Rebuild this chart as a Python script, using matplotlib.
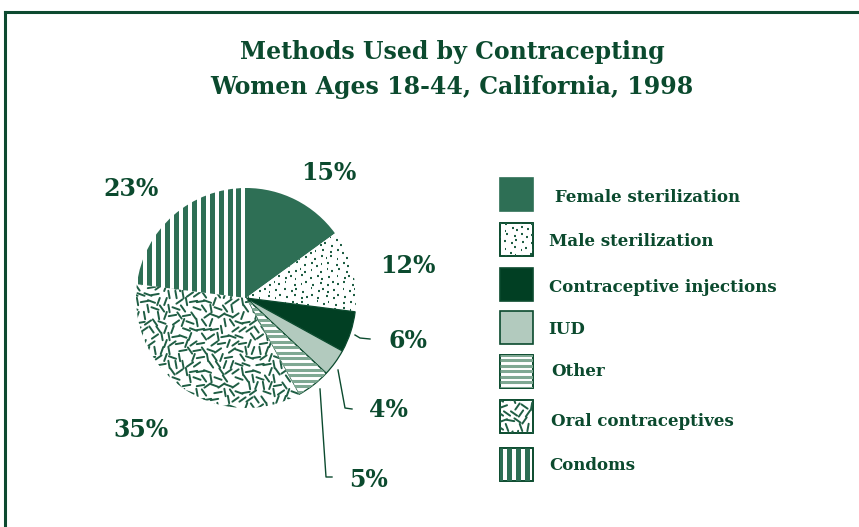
import matplotlib
matplotlib.use("Agg")
import numpy as np
import matplotlib.pyplot as plt
from matplotlib.lines import Line2D
from matplotlib.patches import Rectangle
from matplotlib.collections import LineCollection

methods = ["Female sterilization", "Male sterilization", "Contraceptive injections",
           "IUD", "Other", "Oral contraceptives", "Condoms"]
shares = [15, 12, 6, 4, 5, 35, 23]
pct_labels = ["15%", "12%", "6%", "4%", "5%", "35%", "23%"]

dark = "#0b4a2e"
mid = "#1f5e44"
faces = ["#2e6f55", "white", "#013f23", "#b2cabe", "white", "white", "white"]
edges = ["none", "none", dark, dark, dark, "none", "none"]
textures = [None, "dots", None, None, "hstripes", "dashes", "vstripes"]

plt.rcParams["font.family"] = "DejaVu Serif"

W, H = 859, 527
fig = plt.figure(figsize=(W / 100, H / 100), dpi=100)

# frame lines (top and left)
fig.add_artist(Line2D([5 / W, 1], [1 - 12 / H, 1 - 12 / H], color="#0d4a30", lw=2.2, transform=fig.transFigure))
fig.add_artist(Line2D([5 / W, 5 / W], [0, 1 - 12 / H], color="#0d4a30", lw=2.2, transform=fig.transFigure))

fig.text(452 / W, 1 - 52 / H, "Methods Used by Contracepting", ha="center", va="center",
         fontsize=17, fontweight="bold", color=dark)
fig.text(452 / W, 1 - 87 / H, "Women Ages 18-44, California, 1998", ha="center", va="center",
         fontsize=17, fontweight="bold", color=dark)


def add_texture(ax, patch, kind, x0, x1, y0, y1, unit):
    # unit = data units per pixel; y0 < y1 in data units
    if kind is None:
        return
    segs = []
    if kind == "vstripes":
        step = 9 * unit
        for x in np.arange(x0, x1 + step, step):
            segs.append([(x, y0), (x, y1)])
        lc = LineCollection(segs, colors="#2e6f55", linewidths=3.6)
    elif kind == "hstripes":
        step = 5.5 * unit
        for y in np.arange(y0, y1 + step, step):
            segs.append([(x0, y), (x1, y)])
        lc = LineCollection(segs, colors="#7fa893", linewidths=2.2)
    elif kind == "dots":
        step = 6.5 * unit
        nx = int((x1 - x0) / step) + 2
        ny = int((y1 - y0) / step) + 2
        jit = [0.0, 0.22, -0.18, 0.12, -0.25, 0.3, -0.08, 0.18, -0.3]
        for j in range(ny):
            for i in range(nx):
                px_ = x0 + (i + 0.5 * (j % 2) + jit[(i * 4 + j) % 9]) * step
                py_ = y0 + (j + jit[(i + j * 5) % 9]) * step
                segs.append([(px_, py_), (px_ + 1.8 * unit, py_)])
        lc = LineCollection(segs, colors=mid, linewidths=1.5, capstyle="butt")
    else:
        step = 7 * unit
        half = 3.8 * unit
        angs = np.deg2rad([35, 125, 70, 160, 10, 100])
        nx = int((x1 - x0) / step) + 2
        ny = int((y1 - y0) / step) + 2
        for j in range(ny):
            for i in range(nx):
                cx_ = x0 + i * step + (j % 2) * step / 2
                cy_ = y0 + j * step
                a = angs[(i * 4 + j * 3 + (i * j) % 5) % 6]
                if (i + 2 * j) % 7 == 3:
                    segs.append([(cx_, cy_), (cx_ + 0.4 * unit, cy_)])
                else:
                    segs.append([(cx_ - half * np.cos(a), cy_ - half * np.sin(a)),
                                 (cx_ + half * np.cos(a), cy_ + half * np.sin(a))])
        lc = LineCollection(segs, colors=mid, linewidths=1.4, capstyle="round")
    ax.add_collection(lc)
    lc.set_clip_path(patch.get_path(), patch.get_transform())


cx, cy, r = 246, 298, 110
ax = fig.add_axes([(cx - r) / W, (H - cy - r) / H, 2 * r / W, 2 * r / H])
wedges, _ = ax.pie(shares, startangle=90, counterclock=False, colors=faces, radius=1,
                   wedgeprops=dict(linewidth=0.9))
ax.set_xlim(-1, 1)
ax.set_ylim(-1, 1)
ax.set_aspect("auto")
ax.axis("off")
for w, ec, t in zip(wedges, edges, textures):
    w.set_edgecolor(ec)
    add_texture(ax, w, t, -1.05, 1.05, -1.05, 1.05, 1 / r)


def px(x, y):
    return (x - cx) / r, (cy - y) / r


label_pos = [(329, 173), (408, 266), (408, 341), (388, 410), (369, 480), (141, 430), (131, 189)]
for lab, (lx, ly) in zip(pct_labels, label_pos):
    ax.text(*px(lx, ly), lab, ha="center", va="center", fontsize=17, fontweight="bold",
            color=dark, clip_on=False)

leaders = [
    [(355, 335), (360, 338), (370, 339)],
    [(338, 370), (345, 408), (352, 409)],
    [(320, 389), (326, 477), (332, 477)],
]
for pts in leaders:
    xs, ys = zip(*[px(x, y) for x, y in pts])
    ax.plot(xs, ys, color=dark, lw=1.0, clip_on=False)

# legend drawn in pixel coordinates
lax = fig.add_axes([0, 0, 1, 1])
lax.set_xlim(0, W)
lax.set_ylim(H, 0)
lax.axis("off")
box_y = [194.5, 239.5, 284.5, 327, 371.5, 416.5, 464.5]
text_x = [555, 549, 549, 548, 551, 551, 549]
text_y = [197, 241, 287, 329, 372, 422, 466]
for i, name in enumerate(methods):
    rect = Rectangle((500, box_y[i] - 16.5), 33, 33, facecolor=faces[i],
                     edgecolor=dark if i != 0 else faces[0], lw=1.2)
    lax.add_patch(rect)
    add_texture(lax, rect, textures[i], 500, 533, box_y[i] - 17, box_y[i] + 17, 1)
    if textures[i]:
        lax.add_patch(Rectangle((500, box_y[i] - 16.5), 33, 33, facecolor="none",
                                edgecolor=dark, lw=1.2))
    lax.text(text_x[i], text_y[i], name, ha="left", va="center", fontsize=12,
             fontweight="bold", color=dark)

fig.savefig("out.png", dpi=100)
